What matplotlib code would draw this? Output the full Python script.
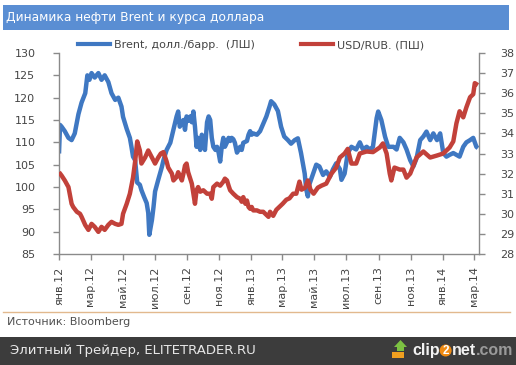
import matplotlib
matplotlib.use('Agg')
import matplotlib.pyplot as plt
import pandas as pd
from matplotlib.patches import Rectangle, Polygon, Ellipse
from matplotlib.lines import Line2D

# ---------------- data ----------------
brent_dates = [
    '2012-01-01', '2012-01-03', '2012-01-06', '2012-01-12', '2012-01-19', '2012-01-25', '2012-01-31',
    '2012-02-07', '2012-02-13', '2012-02-20', '2012-02-24', '2012-02-28', '2012-03-03', '2012-03-09',
    '2012-03-16', '2012-03-22', '2012-03-28', '2012-04-04', '2012-04-10', '2012-04-17', '2012-04-23',
    '2012-04-29', '2012-05-02', '2012-05-09', '2012-05-15', '2012-05-18', '2012-05-21', '2012-05-25',
    '2012-05-29', '2012-06-03', '2012-06-06', '2012-06-11', '2012-06-16', '2012-06-19', '2012-06-21',
    '2012-06-26', '2012-06-29', '2012-07-02', '2012-07-08', '2012-07-15', '2012-07-18', '2012-07-24',
    '2012-07-31', '2012-08-06', '2012-08-12', '2012-08-15', '2012-08-18', '2012-08-25', '2012-08-28',
    '2012-08-31', '2012-09-03', '2012-09-07', '2012-09-10', '2012-09-13', '2012-09-16', '2012-09-19',
    '2012-09-22', '2012-09-26', '2012-09-29', '2012-10-02', '2012-10-05', '2012-10-09', '2012-10-12',
    '2012-10-15', '2012-10-18', '2012-10-21', '2012-10-25', '2012-10-28', '2012-10-31', '2012-11-03',
    '2012-11-06', '2012-11-09', '2012-11-12', '2012-11-16', '2012-11-19', '2012-11-22', '2012-11-25',
    '2012-11-28', '2012-12-01', '2012-12-05', '2012-12-08', '2012-12-11', '2012-12-14', '2012-12-17',
    '2012-12-24', '2012-12-27', '2012-12-30', '2013-01-02', '2013-01-05', '2013-01-12', '2013-01-18',
    '2013-01-23', '2013-01-30', '2013-02-05', '2013-02-08', '2013-02-14', '2013-02-21', '2013-02-27',
    '2013-03-05', '2013-03-12', '2013-03-18', '2013-03-25', '2013-03-31', '2013-04-06', '2013-04-13',
    '2013-04-16', '2013-04-19', '2013-04-22', '2013-04-29', '2013-05-05', '2013-05-11', '2013-05-18',
    '2013-05-24', '2013-05-31', '2013-06-06', '2013-06-12', '2013-06-19', '2013-06-22', '2013-06-28',
    '2013-07-04', '2013-07-11', '2013-07-20', '2013-07-27', '2013-08-02', '2013-08-09', '2013-08-15',
    '2013-08-21', '2013-08-28', '2013-08-31', '2013-09-06', '2013-09-13', '2013-09-19', '2013-09-29',
    '2013-10-05', '2013-10-11', '2013-10-18', '2013-10-24', '2013-10-31', '2013-11-06', '2013-11-12',
    '2013-11-19', '2013-11-25', '2013-12-01', '2013-12-08', '2013-12-14', '2013-12-21', '2013-12-27',
    '2014-01-02', '2014-01-08', '2014-01-14', '2014-01-21', '2014-01-27', '2014-02-02', '2014-02-09',
    '2014-02-15', '2014-02-22', '2014-02-28', '2014-03-06', '2014-03-09',
]
brent_values = [
    107.5, 113.9, 113.5, 112.5, 111.0, 110.5, 112.0,
    116.3, 118.9, 121.0, 125.0, 124.0, 125.5, 124.5,
    125.5, 124.0, 125.0, 123.5, 121.0, 119.5, 120.0,
    118.0, 115.7, 113.0, 111.0, 109.0, 106.8, 106.0,
    101.0, 100.5, 99.3, 97.8, 96.4, 94.2, 89.3,
    92.6, 95.5, 99.0, 101.6, 104.5, 106.0, 108.3,
    109.9, 112.8, 115.8, 116.9, 113.5, 115.0, 112.8,
    115.8, 114.8, 115.8, 114.5, 116.9, 113.5, 109.0,
    111.0, 108.3, 111.7, 111.0, 108.3, 114.5, 115.8,
    115.0, 111.0, 109.0, 108.3, 109.0, 107.7, 105.7,
    109.0, 111.0, 109.0, 110.0, 111.0, 110.3, 111.0,
    110.7, 109.9, 107.7, 108.3, 109.0, 108.3, 109.9,
    110.3, 111.7, 112.5, 111.7, 112.0, 111.7, 112.5,
    113.9, 115.8, 118.0, 119.2, 118.5, 117.0, 113.5,
    111.3, 110.5, 109.7, 110.5, 110.9, 107.6, 103.0,
    99.4, 97.9, 100.6, 103.0, 105.0, 104.6, 102.7,
    103.5, 102.3, 104.0, 105.3, 104.0, 101.6, 103.0,
    107.6, 109.0, 108.4, 110.0, 108.4, 109.0, 108.4,
    109.0, 115.4, 116.9, 115.0, 111.3, 109.0, 109.0,
    108.4, 111.0, 110.0, 108.4, 106.0, 104.6, 106.4,
    110.5, 111.3, 112.4, 110.5, 112.0, 110.5, 112.0,
    107.6, 106.8, 107.2, 107.6, 107.2, 106.8, 109.0,
    110.0, 110.5, 111.0, 109.0, 108.7,
]

usd_dates = [
    '2012-01-01', '2012-01-06', '2012-01-12', '2012-01-19', '2012-01-25', '2012-01-28', '2012-02-04',
    '2012-02-10', '2012-02-13', '2012-02-20', '2012-02-26', '2012-03-03', '2012-03-09', '2012-03-16',
    '2012-03-22', '2012-03-28', '2012-04-04', '2012-04-10', '2012-04-17', '2012-04-23', '2012-04-29',
    '2012-05-02', '2012-05-09', '2012-05-15', '2012-05-21', '2012-05-25', '2012-05-29', '2012-06-03',
    '2012-06-06', '2012-06-13', '2012-06-19', '2012-06-26', '2012-07-02', '2012-07-08', '2012-07-13',
    '2012-07-18', '2012-07-24', '2012-07-27', '2012-08-03', '2012-08-06', '2012-08-12', '2012-08-15',
    '2012-08-18', '2012-08-22', '2012-08-25', '2012-08-28', '2012-08-31', '2012-09-03', '2012-09-07',
    '2012-09-10', '2012-09-13', '2012-09-16', '2012-09-19', '2012-09-22', '2012-09-26', '2012-10-02',
    '2012-10-09', '2012-10-15', '2012-10-18', '2012-10-21', '2012-10-28', '2012-11-03', '2012-11-09',
    '2012-11-12', '2012-11-16', '2012-11-19', '2012-11-22', '2012-11-28', '2012-12-05', '2012-12-11',
    '2012-12-14', '2012-12-17', '2012-12-21', '2012-12-24', '2012-12-27', '2012-12-30', '2013-01-02',
    '2013-01-05', '2013-01-12', '2013-01-18', '2013-01-24', '2013-01-31', '2013-02-03', '2013-02-06',
    '2013-02-12', '2013-02-18', '2013-02-24', '2013-03-02', '2013-03-09', '2013-03-15', '2013-03-22',
    '2013-03-28', '2013-04-03', '2013-04-07', '2013-04-14', '2013-04-19', '2013-04-24', '2013-04-30',
    '2013-05-08', '2013-05-15', '2013-05-24', '2013-06-03', '2013-06-12', '2013-06-19', '2013-06-28',
    '2013-07-04', '2013-07-11', '2013-07-20', '2013-07-27', '2013-08-09', '2013-08-21', '2013-09-03',
    '2013-09-09', '2013-09-16', '2013-09-22', '2013-09-25', '2013-10-01', '2013-10-11', '2013-10-18',
    '2013-10-24', '2013-10-31', '2013-11-06', '2013-11-12', '2013-11-25', '2013-12-08', '2013-12-21',
    '2014-01-02', '2014-01-14', '2014-01-21', '2014-01-27', '2014-02-02', '2014-02-09', '2014-02-15',
    '2014-02-22', '2014-02-28', '2014-03-03', '2014-03-09',
]
usd_values = [
    32.07, 31.9, 31.66, 31.33, 30.5, 30.34, 30.1,
    30.0, 29.85, 29.44, 29.2, 29.5, 29.35, 29.1,
    29.35, 29.2, 29.45, 29.6, 29.5, 29.45, 29.5,
    30.0, 30.5, 31.0, 31.8, 32.6, 33.6, 33.15,
    32.5, 32.8, 33.15, 32.8, 32.5, 32.8, 33.0,
    33.07, 32.6, 32.3, 32.0, 31.66, 31.83, 32.07,
    31.9, 31.66, 32.0, 32.4, 32.5, 32.07, 31.75,
    31.5, 31.0, 30.5, 31.17, 31.33, 31.1, 31.17,
    31.0, 31.0, 30.75, 31.33, 31.5, 31.4, 31.6,
    31.75, 31.66, 31.4, 31.17, 31.0, 30.83, 30.75,
    30.6, 30.83, 30.5, 30.66, 30.34, 30.25, 30.34,
    30.17, 30.17, 30.1, 30.1, 29.93, 29.85, 30.1,
    29.9, 30.2, 30.35, 30.5, 30.7, 30.77, 31.0,
    31.0, 31.6, 31.2, 31.3, 31.66, 31.2, 31.0,
    31.3, 31.4, 31.5, 32.0, 32.3, 32.8, 33.0,
    33.23, 32.5, 32.5, 33.0, 33.1, 33.07, 33.3,
    33.5, 33.0, 32.0, 31.66, 32.3, 32.2, 32.2,
    31.8, 32.0, 32.4, 32.8, 33.1, 32.8, 32.9,
    33.0, 33.3, 33.6, 34.5, 35.1, 34.8, 35.3,
    35.8, 35.95, 36.5, 36.4,
]

x_tick_dates = ['2012-01-01', '2012-03-01', '2012-05-01', '2012-07-01', '2012-09-01', '2012-11-01',
                '2013-01-01', '2013-03-01', '2013-05-01', '2013-07-01', '2013-09-01', '2013-11-01',
                '2014-01-01', '2014-03-01']
x_tick_labels = ['янв.12', 'мар.12', 'май.12', 'июл.12', 'сен.12', 'ноя.12',
                 'янв.13', 'мар.13', 'май.13', 'июл.13', 'сен.13', 'ноя.13',
                 'янв.14', 'мар.14']
left_ticks = [85, 90, 95, 100, 105, 110, 115, 120, 125, 130]
right_ticks = [28, 29, 30, 31, 32, 33, 34, 35, 36, 37, 38]
x_range = ['2012-01-01', '2014-03-11']

title = 'Динамика нефти Brent и курса доллара'
brent_label = 'Brent, долл./барр.  (ЛШ)'
usd_label = 'USD/RUB. (ПШ)'
source = 'Источник: Bloomberg'
footer = 'Элитный Трейдер, ELITETRADER.RU'
logo_parts = ['clip', '2', 'net', '.com']

# ---------------- style ----------------
plt.rcParams['font.family'] = ['DejaVu Sans']
BLUE = '#3f78c2'
RED = '#c2413a'
AXC = '#8a8a8a'
TXT = '#454545'

W, H = 516, 365
fig = plt.figure(figsize=(W / 100, H / 100), dpi=100)
fig.patch.set_facecolor('white')


def fx(x):
    return x / W


def fy(y):
    return 1 - y / H


# title bar
fig.patches.append(Rectangle((fx(3), fy(29.5)), fx(509) - fx(3), fy(5) - fy(29.5),
                             transform=fig.transFigure, facecolor='#5a8ed3', edgecolor='none', zorder=0))
fig.text(fx(6), fy(17.5), title, color='white', fontsize=8.8, va='center', ha='left')

# axes
L, R, T, B = 59, 479, 53, 254
ax = fig.add_axes([fx(L), fy(B), (R - L) / W, (B - T) / H])
ax2 = ax.twinx()

bd = pd.to_datetime(brent_dates)
ud = pd.to_datetime(usd_dates)
ax.plot(bd, brent_values, color=BLUE, lw=3.2, solid_joinstyle='round', solid_capstyle='butt')
ax2.plot(ud, usd_values, color=RED, lw=3.2, solid_joinstyle='round', solid_capstyle='butt')

ax.set_xlim(pd.to_datetime(x_range[0]), pd.to_datetime(x_range[1]))
ax.set_ylim(left_ticks[0], left_ticks[-1])
ax2.set_ylim(right_ticks[0], right_ticks[-1])
ax.set_yticks(left_ticks)
ax2.set_yticks(right_ticks)
ax.set_xticks(pd.to_datetime(x_tick_dates))
ax.set_xticklabels(x_tick_labels, rotation=90)

for a in (ax, ax2):
    a.set_facecolor('none')
    a.spines['top'].set_visible(False)
    for s in ('left', 'right', 'bottom'):
        a.spines[s].set_color(AXC)
        a.spines[s].set_linewidth(1.0)
ax.spines['right'].set_visible(False)
ax2.spines['left'].set_visible(False)
ax2.spines['bottom'].set_visible(False)

ax.tick_params(axis='y', direction='out', length=4, width=1, color=AXC, labelsize=8, labelcolor=TXT, pad=13)
ax2.tick_params(axis='y', direction='out', length=4, width=1, color=AXC, labelsize=8, labelcolor=TXT, pad=11)
ax.tick_params(axis='x', direction='out', length=4, width=1, color=AXC, labelsize=8, labelcolor=TXT, pad=5)

# legend
handles = [Line2D([0], [0], color=BLUE, lw=3.0), Line2D([0], [0], color=RED, lw=3.0)]
fig.legend(handles, [brent_label, usd_label], loc='center left', bbox_to_anchor=(fx(78), fy(45)),
           bbox_transform=fig.transFigure, ncol=2, frameon=False, fontsize=8,
           handlelength=2.9, handletextpad=0.3, columnspacing=4.2, borderpad=0, borderaxespad=0,
           labelcolor=TXT)

# separator and source
fig.lines.append(Line2D([fx(3), fx(510)], [fy(311.7), fy(311.7)], transform=fig.transFigure,
                        color='#e2b98e', lw=1.0))
fig.text(fx(7), fy(322), source, color='#505050', fontsize=8, va='center', ha='left')

# footer bar
fig.patches.append(Rectangle((0, 0), 1, fy(336.5), transform=fig.transFigure,
                             facecolor='#3c3c3c', edgecolor='none', zorder=0))
fig.text(fx(10), fy(350.5), footer, color='#e8e8e8', fontsize=9.5, va='center', ha='left')

# clip2net logo
arrow = [(393, 351), (397, 351), (397, 347), (394, 347), (400.5, 340), (407, 347), (404, 347), (404, 351)]
fig.patches.append(Polygon([(fx(px), fy(py)) for px, py in arrow], closed=True, transform=fig.transFigure,
                           facecolor='#7cc242', edgecolor='none'))
fig.patches.append(Polygon([(fx(px), fy(py)) for px, py in [(392, 352), (404, 352), (404, 358), (392, 358)]],
                           closed=True, transform=fig.transFigure, facecolor='#f0a020', edgecolor='none'))

renderer = fig.canvas.get_renderer()
cur_x = 412.0
logo_colors = ['#f2f2f2', 'white', '#f2f2f2', '#9a9a9a']
for part, col in zip(logo_parts, logo_colors):
    if part == '2':
        fig.patches.append(Ellipse((fx(cur_x + 6), fy(350.5)), width=12 / W, height=12 / H,
                                   transform=fig.transFigure, facecolor='#f08a10', edgecolor='none'))
        fig.text(fx(cur_x + 6), fy(350.5), part, color='white', fontsize=8.5, fontweight='bold',
                 family='Liberation Sans', va='center', ha='center')
        cur_x += 12.5
        continue
    t = fig.text(fx(cur_x), fy(350.5), part, color=col, fontsize=11.5, fontweight='bold',
                 family='Liberation Sans', va='center', ha='left')
    bb = t.get_window_extent(renderer)
    cur_x += bb.width

fig.savefig('out.png', dpi=100, facecolor='white')
